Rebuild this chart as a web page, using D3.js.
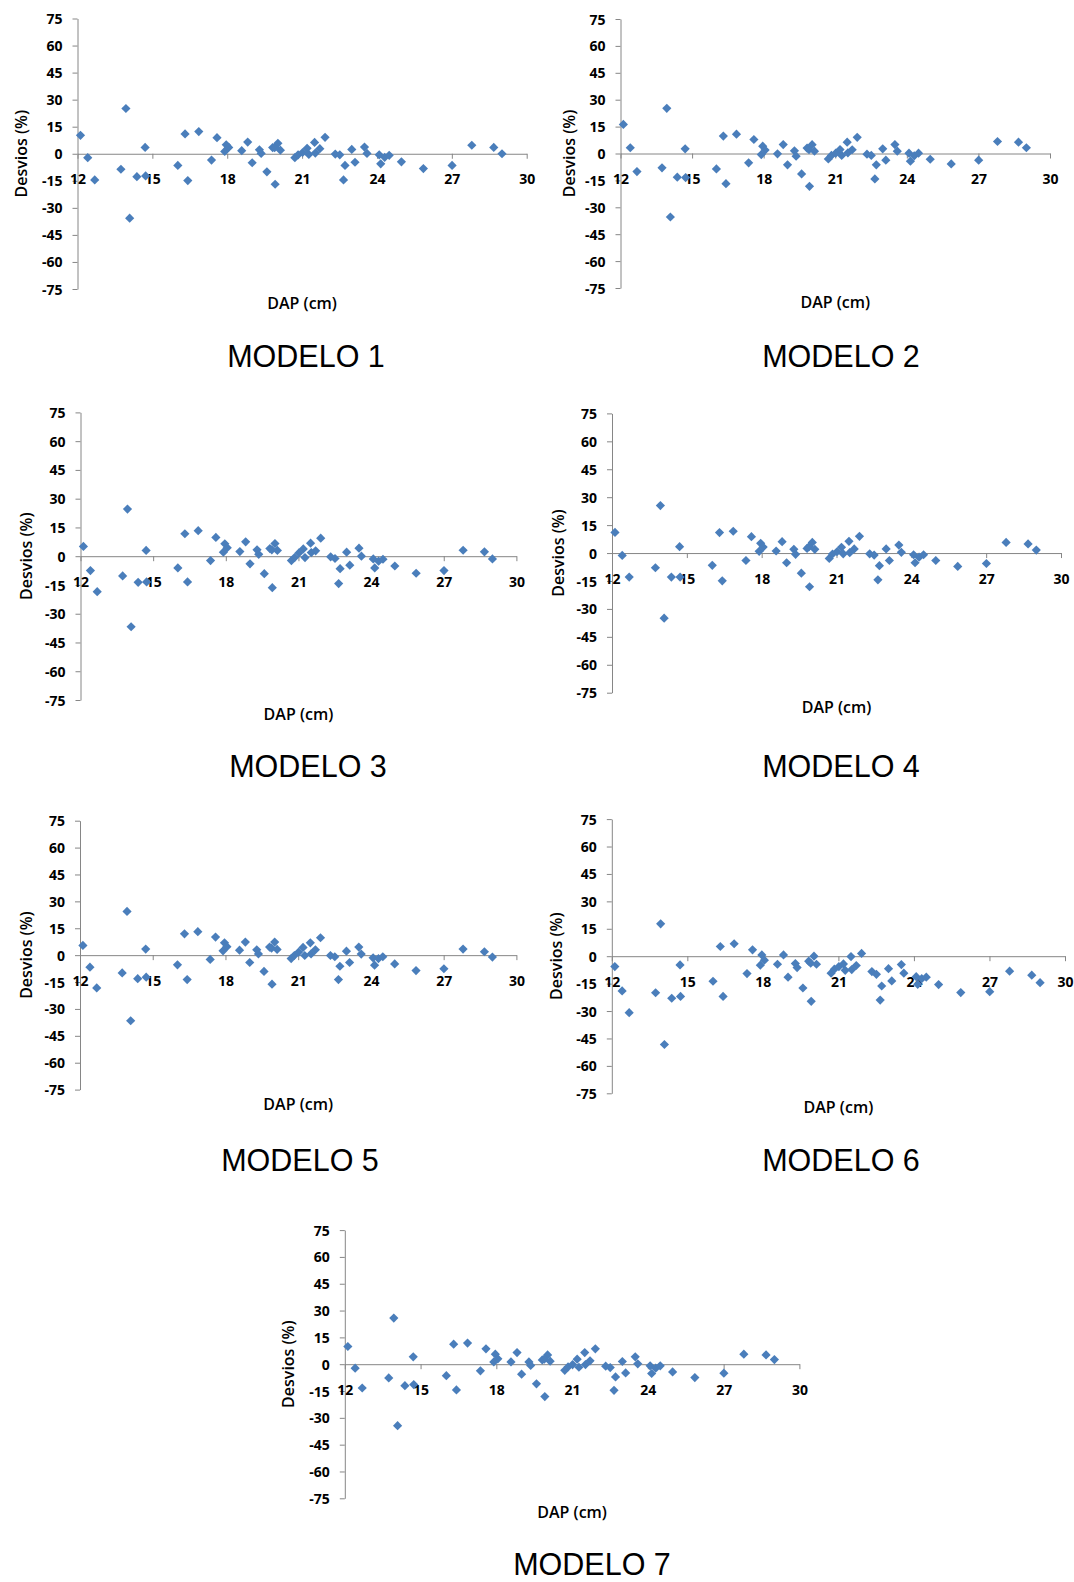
<!DOCTYPE html>
<html>
<head>
<meta charset="utf-8">
<script src="https://cdn.jsdelivr.net/npm/d3@7"></script>
<style>
  html, body { margin: 0; padding: 0; background: #fff; }
  svg { display: block; }
  .tick text { font-family: "Open Sans", sans-serif; font-weight: 700; font-size: 14px; fill: #000; }
  .axis-title { font-family: "Open Sans", sans-serif; font-weight: 600; font-size: 16px; fill: #000; }
  .model-title { font-family: "Liberation Sans", Arial, sans-serif; font-size: 30.5px; fill: #000; }
</style>
</head>
<body>
<svg id="chart" width="1074" height="1582"></svg>
<script>
// ---- Data ----
const xTicks = [12, 15, 18, 21, 24, 27, 30];
const yTicks = [-75, -60, -45, -30, -15, 0, 15, 30, 45, 60, 75];
const modelNames = ["MODELO 1", "MODELO 2", "MODELO 3", "MODELO 4", "MODELO 5", "MODELO 6", "MODELO 7"];
const xLabel = "DAP (cm)";
const yLabel = "Desvios (%)";

// DAP (cm) of each tree, shared by all models
const dap = [12.12, 12.41, 12.69, 13.94, 13.74, 14.09, 14.38, 14.71, 14.73, 16.02,
             16.31, 16.42, 16.86, 17.37, 17.59, 17.90, 17.96, 18.06, 18.58, 18.82,
             19.00, 19.29, 19.36, 19.59, 19.82, 19.92, 20.03, 19.90, 20.13, 20.71,
             20.84, 21.02, 21.20, 21.27, 21.50, 21.53, 21.71, 21.92, 22.33, 22.51,
             22.66, 22.72, 22.99, 23.12, 23.50, 23.60, 24.09, 24.15, 24.31, 24.49,
             24.98, 25.86, 27.01, 27.80, 28.68, 29.01];

const modelo1 = [10.2, -2.2, -14.5, 25.1, -8.6, -35.7, -12.7, 3.5, -12.3, -6.5,
                 11.0, -14.9, 12.3, -3.5, 8.9, 1.3, 5.0, 3.5, 1.7, 6.5,
                 -5.0, 2.2, 0.2, -10.0, 3.4, -16.9, 5.8, 3.4, 2.0, -2.2,
                 -0.6, 0.7, 3.0, -0.4, 6.3, 0.4, 2.8, 9.1, -0.2, -0.6,
                 -14.5, -6.5, 2.4, -4.7, 3.7, 0.2, -0.6, -5.6, -2.0, -0.9,
                 -4.5, -8.2, -6.5, 4.7, 3.5, 0.0];
const modelo2 = [16.2, 3.2, -10.1, 25.2, -8.0, -35.4, -13.2, 2.6, -13.4, -8.6,
                 9.7, -16.8, 10.8, -5.2, 7.8, -0.6, 4.1, 1.9, -0.2, 5.0,
                 -6.3, 1.5, -1.5, -11.4, 3.0, -18.3, 4.9, 2.1, 1.3, -3.0,
                 -1.1, 0.2, 2.2, -1.1, 6.3, 0.4, 2.1, 9.0, -0.4, -1.1,
                 -14.2, -6.3, 2.6, -3.7, 5.0, 1.3, 0.2, -4.3, -1.3, 0.2,
                 -3.2, -5.8, -3.7, 6.7, 6.3, 3.2];
const modelo3 = [5.1, -7.5, -18.5, 24.6, -10.3, -36.8, -13.6, 3.0, -13.4, -6.1,
                 11.7, -13.4, 13.3, -2.3, 9.8, 2.1, 6.5, 4.4, 2.4, 7.5,
                 -4.0, 3.3, 1.0, -9.1, 4.0, -16.4, 6.6, 3.3, 3.0, -2.3,
                 -0.7, 1.7, 3.8, -0.7, 6.8, 1.9, 2.8, 9.4, -0.3, -1.2,
                 -14.3, -6.5, 2.1, -4.7, 4.2, 0.0, -1.4, -6.1, -2.6, -1.6,
                 -5.1, -8.9, -7.5, 3.1, 2.3, -1.4];
const modelo4 = [11.1, -1.3, -12.9, 25.5, -7.9, -35.0, -12.9, 3.4, -12.9, -6.6,
                 11.0, -14.9, 11.7, -4.0, 8.8, 0.9, 5.2, 3.2, 1.1, 6.1,
                 -5.2, 2.0, -0.7, -10.8, 2.5, -18.1, 5.7, 3.4, 2.0, -2.9,
                 -0.5, 0.7, 3.1, -0.4, 6.3, 0.2, 2.2, 9.0, -0.4, -1.1,
                 -14.4, -6.8, 2.2, -4.0, 4.3, 0.4, -0.9, -5.2, -2.2, -0.9,
                 -4.0, -7.2, -5.6, 5.7, 4.9, 1.6];
const modelo5 = [5.4, -6.7, -18.3, 24.4, -9.9, -36.6, -13.1, 3.4, -12.3, -5.4,
                 11.9, -13.6, 13.1, -2.4, 10.1, 2.4, 6.9, 4.7, 2.8, 7.3,
                 -4.1, 3.0, 0.7, -9.1, 4.5, -16.2, 7.3, 3.9, 3.2, -1.9,
                 -0.2, 1.7, 4.3, -0.2, 6.9, 0.7, 3.0, 9.7, -0.2, -0.9,
                 -13.6, -6.2, 2.2, -4.1, 4.5, 0.6, -1.5, -5.6, -1.9, -0.9,
                 -4.9, -8.6, -7.6, 3.4, 1.9, -1.1];
const modelo6 = [-5.7, -19.0, -30.9, 17.7, -20.0, -48.3, -23.0, -4.8, -22.0, -13.7,
                 5.3, -22.0, 6.8, -9.5, 3.5, -4.9, 0.7, -2.2, -4.4, 0.7,
                 -11.5, -4.0, -6.2, -17.4, -2.7, -24.7, 0.0, -3.8, -4.4, -9.3,
                 -7.1, -5.7, -4.2, -7.7, -0.2, -7.3, -5.1, 1.5, -8.4, -9.9,
                 -24.0, -16.3, -6.8, -13.5, -4.6, -9.3, -11.2, -15.4, -12.3, -11.5,
                 -15.5, -19.9, -19.4, -8.2, -10.4, -14.5];
const modelo7 = [9.9, -2.2, -13.3, 25.8, -7.7, -34.4, -12.0, 4.1, -11.4, -6.4,
                 11.2, -14.4, 11.8, -3.7, 8.6, 1.3, 5.6, 3.0, 1.3, 6.5,
                 -5.6, 1.3, -0.7, -11.0, 2.4, -18.1, 5.2, 2.8, 1.7, -3.4,
                 -1.5, -0.2, 2.8, -1.7, 6.5, -0.2, 1.9, 8.6, -1.1, -1.9,
                 -14.6, -7.1, 1.5, -4.9, 4.1, 0.2, -0.9, -5.2, -2.2, -0.9,
                 -4.3, -7.5, -5.0, 5.6, 5.2, 2.6];

const models = [modelo1, modelo2, modelo3, modelo4, modelo5, modelo6, modelo7];

// ---- Layout (pixel placement of each panel) ----
const panels = [
  { left: 77.5, right: 526.7, top: 18.5, bottom: 289,   yTitleX: 21,  titleX: 306, titleY: 367 },
  { left: 620.5, right: 1050, top: 19,   bottom: 288,   yTitleX: 569, titleX: 841, titleY: 367 },
  { left: 80.5, right: 516.4, top: 412.4, bottom: 700,  yTitleX: 26.5, titleX: 308, titleY: 776.5 },
  { left: 612,  right: 1061,  top: 413.4, bottom: 692.7, yTitleX: 558, titleX: 841, titleY: 776.5 },
  { left: 80,   right: 516.4, top: 820.7, bottom: 1089.6, yTitleX: 26.5, titleX: 300, titleY: 1170.5 },
  { left: 611.8, right: 1065, top: 819.1, bottom: 1093.3, yTitleX: 556, titleX: 841, titleY: 1170.5 },
  { left: 344.8, right: 799.4, top: 1230.1, bottom: 1498.3, yTitleX: 288, titleX: 592, titleY: 1575 }
];

const axisColor = "#868686";
const markerColor = "#4A7EBB";
const r = 4.6;
const fmt = d => String(d); // plain hyphen-minus like the reference

const svg = d3.select("#chart");

panels.forEach((p, i) => {
  const vals = models[i];
  const x = d3.scaleLinear().domain([12, 30]).range([p.left, p.right]);
  const y = d3.scaleLinear().domain([-75, 75]).range([p.bottom, p.top]);
  const g = svg.append("g");

  // y axis
  const yAx = g.append("g")
    .attr("transform", `translate(${p.left},0)`)
    .call(d3.axisLeft(y).tickValues(yTicks).tickSize(5).tickSizeOuter(0).tickFormat(fmt));
  yAx.select(".domain").attr("stroke", axisColor).attr("stroke-width", 1);
  yAx.selectAll(".tick line").attr("stroke", axisColor);
  yAx.selectAll(".tick text").attr("x", -15).attr("dy", "0.36em");

  // x axis crossing at 0
  const xAx = g.append("g")
    .attr("transform", `translate(0,${y(0)})`)
    .call(d3.axisBottom(x).tickValues(xTicks).tickSize(5).tickSizeOuter(0).tickFormat(fmt));
  xAx.select(".domain").attr("stroke", axisColor).attr("stroke-width", 1);
  xAx.selectAll(".tick line").attr("stroke", axisColor);
  xAx.selectAll(".tick text").attr("y", 30.5).attr("dy", 0);
  g.selectAll(".domain").attr("fill", "none");

  // points
  g.append("g").selectAll("path")
    .data(dap.map((d, k) => [d, vals[k]]))
    .join("path")
    .attr("d", d => {
      const cx = x(d[0]), cy = y(d[1]);
      return `M${cx},${cy - r}L${cx + r},${cy}L${cx},${cy + r}L${cx - r},${cy}Z`;
    })
    .attr("fill", markerColor);

  // axis titles
  g.append("text")
    .attr("class", "axis-title")
    .attr("text-anchor", "middle")
    .attr("x", (p.left + p.right) / 2)
    .attr("y", p.bottom + 20)
    .text(xLabel);
  g.append("text")
    .attr("class", "axis-title")
    .attr("text-anchor", "middle")
    .attr("transform", `translate(${p.yTitleX},${(p.top + p.bottom) / 2}) rotate(-90)`)
    .attr("dy", "0.35em")
    .text(yLabel);

  // model title
  g.append("text")
    .attr("class", "model-title")
    .attr("text-anchor", "middle")
    .attr("x", p.titleX)
    .attr("y", p.titleY)
    .text(modelNames[i]);
});
</script>
</body>
</html>
